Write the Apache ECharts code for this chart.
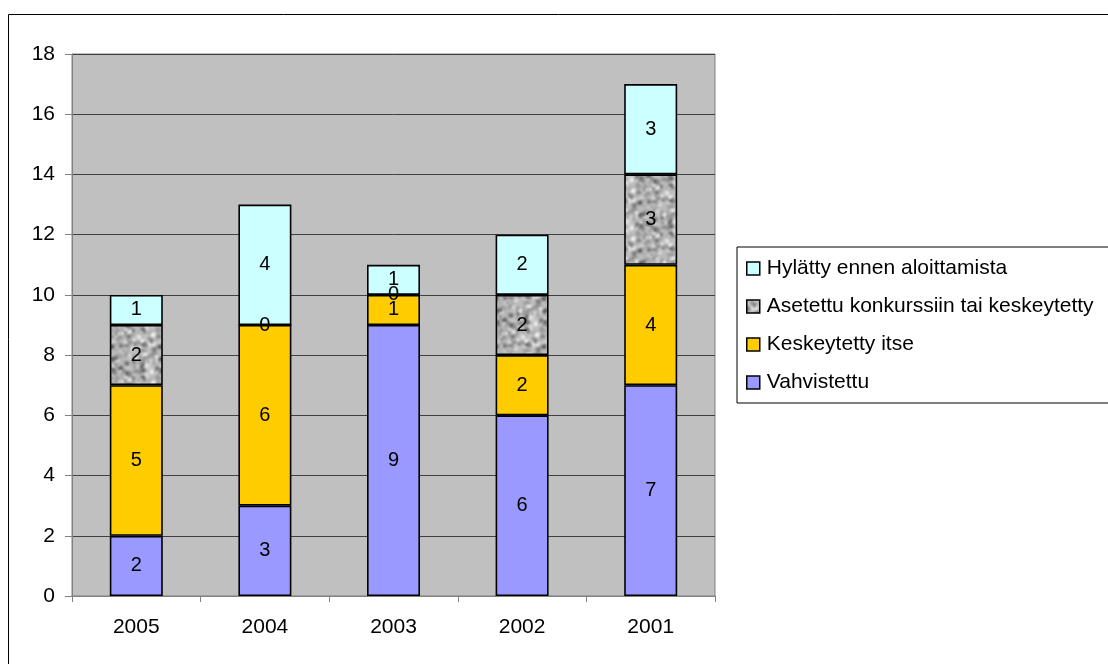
<!DOCTYPE html>
<html><head><meta charset="utf-8">
<script src="https://cdn.jsdelivr.net/npm/echarts@6/dist/echarts.min.js"></script>
<style>html,body{margin:0;padding:0;background:#fff;}#c{width:1108px;height:664px;}</style>
</head><body><div id="c"></div>
<script>
const categories = ['2005','2004','2003','2002','2001'];
const vahvistettu = [2,3,9,6,7];
const keskeytettyItse = [5,6,1,2,4];
const asetettu = [2,0,0,2,3];
const hylatty = [1,4,1,2,3];
const seriesNames = ['Hylätty ennen aloittamista','Asetettu konkurssiin tai keskeytetty','Keskeytetty itse','Vahvistettu'];

// texture for the "Asetettu" fill (deterministic mottled noise)
function makeTexture(){
  const s = 48;
  const raw = document.createElement('canvas'); raw.width = s*3; raw.height = s*3;
  const rc = raw.getContext('2d');
  rc.fillStyle = '#bcbcbc'; rc.fillRect(0,0,s*3,s*3);
  let seed = 4242;
  function rnd(){ seed = (seed*1103515245 + 12345) & 0x7fffffff; return seed/0x7fffffff; }
  const blobs = [];
  for(let i=0;i<280;i++){
    const g = Math.floor(85 + rnd()*160);
    blobs.push([rnd()*s, rnd()*s, 0.8 + rnd()*1.9, g]);
  }
  for(const [x,y,r,g] of blobs){
    rc.fillStyle = 'rgb('+g+','+g+','+g+')';
    for(let dx=0;dx<3;dx++) for(let dy=0;dy<3;dy++){
      rc.beginPath(); rc.arc(x+dx*s,y+dy*s,r,0,Math.PI*2); rc.fill();
    }
  }
  const blurred = document.createElement('canvas'); blurred.width = s*3; blurred.height = s*3;
  const bc = blurred.getContext('2d');
  bc.filter = 'blur(0.8px)';
  bc.drawImage(raw,0,0);
  const cv = document.createElement('canvas'); cv.width = s; cv.height = s;
  cv.getContext('2d').drawImage(blurred, s, s, s, s, 0, 0, s, s);
  return cv;
}
const texImg = makeTexture();

const FONT = 'Liberation Sans, Arial, sans-serif';
const chart = echarts.init(document.getElementById('c'));
const labelCfg = {show:true, position:'inside', color:'#000', fontSize:20, fontFamily:FONT};
function ser(name, data, color){
  return {name, type:'bar', stack:'t', data, barWidth:53,
    itemStyle:{color, borderColor:'#000', borderWidth:1.6}, label:labelCfg, emphasis:{disabled:true}};
}
chart.setOption({
  animation:false,
  textStyle:{fontFamily:FONT},
  grid:{left:72, top:54, right:393, bottom:68, show:true, backgroundColor:'#c0c0c0', borderColor:'#808080', borderWidth:1},
  graphic:[{type:'rect', shape:{x:8.5,y:14.5,width:1200,height:700}, style:{fill:'none', stroke:'#000', lineWidth:1}, z:-10}],
  legend:{
    orient:'vertical', left:737, top:247, padding:[11,40,10,9], itemGap:17,
    borderColor:'#000', borderWidth:1, backgroundColor:'#fff',
    itemWidth:13, itemHeight:13, icon:'rect',
    itemStyle:{borderColor:'#000', borderWidth:1.5},
    textStyle:{fontSize:21, color:'#000', fontFamily:FONT, padding:[0,0,0,2]},
    data:seriesNames
  },
  xAxis:{type:'category', data:categories,
    axisLine:{lineStyle:{color:'#808080'}},
    axisTick:{show:true, lineStyle:{color:'#808080'}, length:6},
    axisLabel:{fontSize:21, color:'#000', margin:21}},
  yAxis:{type:'value', min:0, max:18, interval:2,
    axisLine:{show:true, lineStyle:{color:'#808080'}},
    axisTick:{show:true, length:7, lineStyle:{color:'#808080'}},
    axisLabel:{fontSize:21, color:'#000', margin:17},
    splitLine:{lineStyle:{color:'#404040', width:1}}},
  series:[
    ser(seriesNames[3], vahvistettu, '#9999ff'),
    ser(seriesNames[2], keskeytettyItse, '#ffcc00'),
    ser(seriesNames[1], asetettu, {image:texImg, repeat:'repeat'}),
    ser(seriesNames[0], hylatty, '#ccffff')
  ]
});
</script></body></html>
